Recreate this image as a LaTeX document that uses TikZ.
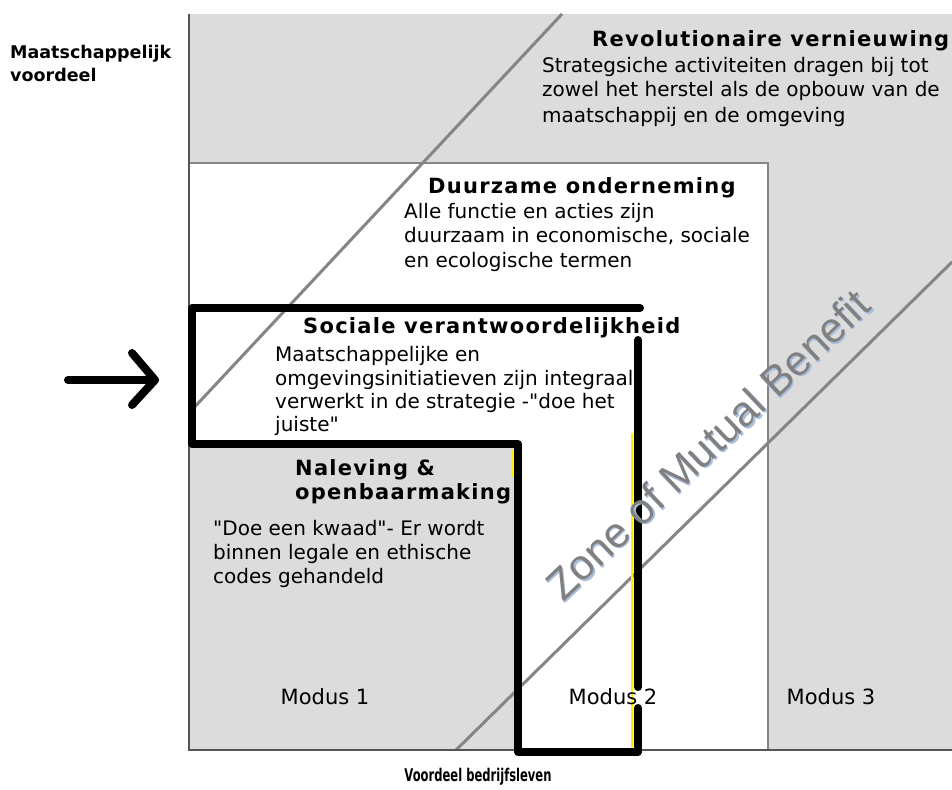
\documentclass[tikz,border=0pt]{standalone}
\usepackage{fontspec}
\usepackage{graphicx}
\setmainfont{DejaVu Sans}
\newfontfamily\bodyfam{DejaVu Sans}
\newfontfamily\hdfam[LetterSpace=6]{DejaVu Sans}
\newfontfamily\zonefam{Liberation Sans}
\definecolor{panelgray}{HTML}{DCDCDC}
\definecolor{linegray}{HTML}{858585}
\definecolor{axisgray}{HTML}{555555}
\definecolor{zonegray}{HTML}{808080}
\definecolor{zoneblue}{HTML}{A8BEDC}
\tikzset{
  bodytxt/.style={anchor=base west, inner sep=0pt, font=\bodyfam\fontsize{20}{24}\selectfont},
  headtxt/.style={anchor=base west, inner sep=0pt, font=\hdfam\bfseries\fontsize{21}{25}\selectfont},
  axislbl/.style={anchor=base west, inner sep=0pt, font=\bfseries\fontsize{17.5}{21}\selectfont},
  modustxt/.style={anchor=base, inner sep=0pt, font=\bodyfam\fontsize{21}{25}\selectfont},
  zonetxt/.style={anchor=base west, inner sep=0pt, rotate=43.5, font=\zonefam\fontsize{42.5}{50}\selectfont},
  diag/.style={draw=linegray, line width=3pt},
  thick path/.style={draw=black, line width=8pt, line cap=round, line join=round},
  yellowline/.style={draw=yellow, line width=2pt},
}
\begin{document}
\begin{tikzpicture}[x=1pt,y=-1pt]
\useasboundingbox[fill=white] (0,0) rectangle (952,789);
% panels
\fill[panelgray] (189,14) rectangle (952,750);
\fill[white] (189,163) rectangle (768,750);
\fill[panelgray] (189,443) rectangle (518,750);
% diagonals
\draw[diag] (562,14) -- (189,413);
\draw[diag] (952,262) -- (456,750);
% modus 2 frame
\draw[linegray, line width=2.5pt] (189,163) -- (768,163) -- (768,750);
% axes
\draw[axisgray, line width=2pt] (189,14) -- (189,750) -- (952,750);
% yellow slivers
\draw[yellowline] (513,450) -- (513,477);
\draw[yellowline] (632,433) -- (632,750);
% hand-drawn black outline
\draw[thick path] (640,308) -- (192,308) -- (192,444) -- (518,444) -- (518,752) -- (638,752) -- (638,708);
\draw[thick path] (638,687) -- (638,340);
% arrow
\draw[thick path] (68,380) -- (155,380);
\draw[thick path] (132,353) -- (155,380) -- (132,405);
% axis labels
\node[axislbl] (ylab1) at (10,59) {Maatschappelijk};
\node[axislbl] (ylab2) at (10,82) {voordeel};
\node[anchor=base, inner sep=0pt, font=\bfseries\fontsize{17.5}{21}\selectfont] (xlab) at (478,781) {\scalebox{0.66}[1]{Voordeel bedrijfsleven}};
% Revolutionaire
\node[headtxt] (rev) at (592,47) {Revolutionaire vernieuwing};
\node[bodytxt] (rev1) at (542,73) {Strategsiche activiteiten dragen bij tot};
\node[bodytxt] (rev2) at (542,97) {zowel het herstel als de opbouw van de};
\node[bodytxt] (rev3) at (542,122) {maatschappij en de omgeving};
% Duurzame
\node[headtxt] (duu) at (428,193) {Duurzame onderneming};
\node[bodytxt] (duu1) at (404,218) {Alle functie en acties zijn};
\node[bodytxt] (duu2) at (404,242) {duurzaam in economische, sociale};
\node[bodytxt] (duu3) at (404,267) {en ecologische termen};
% Sociale
\node[headtxt] (soc) at (303,333) {Sociale verantwoordelijkheid};
\node[bodytxt] (soc1) at (275,361) {Maatschappelijke en};
\node[bodytxt] (soc2) at (275,385) {omgevingsinitiatieven zijn integraal};
\node[bodytxt] (soc3) at (275,408) {verwerkt in de strategie -"doe het};
\node[bodytxt] (soc4) at (275,431) {juiste"};
% Naleving
\node[headtxt] (nal1) at (295,475) {Naleving \&};
\node[headtxt] (nal2) at (295,499) {openbaarmaking};
\node[bodytxt] (nal3) at (213,535) {"Doe een kwaad"- Er wordt};
\node[bodytxt] (nal4) at (213,559) {binnen legale en ethische};
\node[bodytxt] (nal5) at (213,583) {codes gehandeld};
% Modus
\node[modustxt] (m1) at (325,704) {Modus 1};
\node[modustxt] (m2) at (613,704) {Modus 2};
\node[modustxt] (m3) at (831,704) {Modus 3};
% Zone of mutual benefit
\node[zonetxt, text=zoneblue] (zoneshadow) at (564.5,604.5) {Zone of Mutual Benefit};
\node[zonetxt, text=zonegray] (zone) at (563,603) {Zone of Mutual Benefit};
\end{tikzpicture}
\end{document}
